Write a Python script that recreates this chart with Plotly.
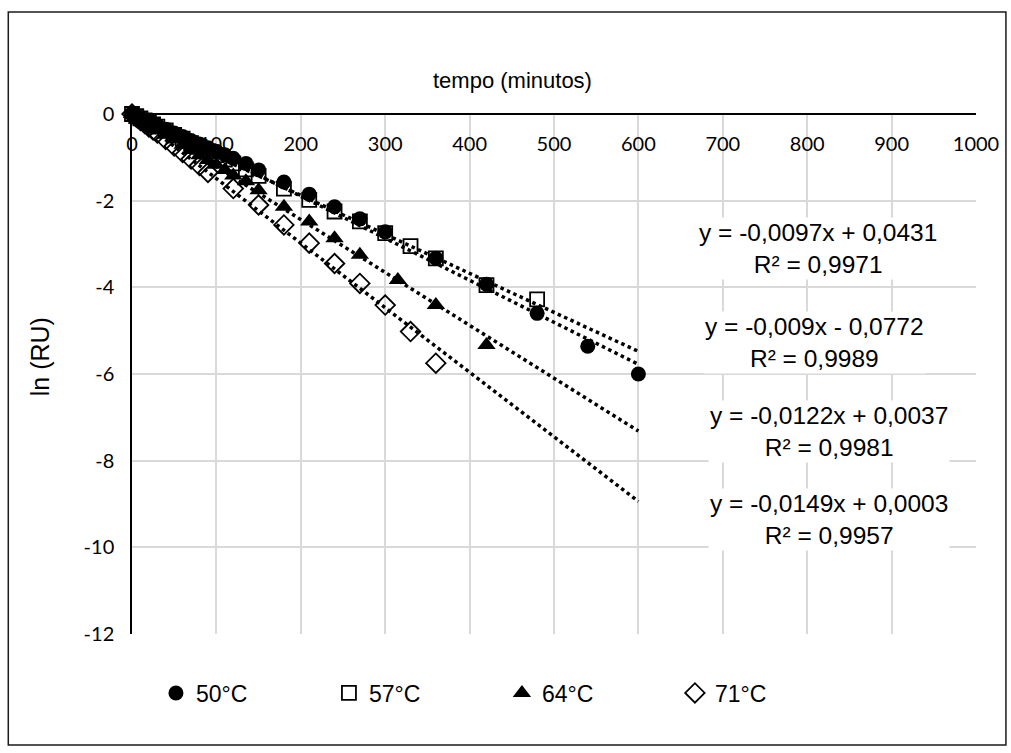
import plotly.graph_objects as go

# ---- data ----
t50 = [0, 5, 10, 15, 20, 25, 30, 40, 50, 60, 70, 80, 90, 100, 110, 120, 135, 150, 180, 210, 240, 270, 300, 360, 420, 480, 540, 600]
y50 = [0, -0.04, -0.09, -0.13, -0.17, -0.22, -0.26, -0.35, -0.44, -0.52, -0.61, -0.69, -0.78, -0.86, -0.94, -1.02, -1.14, -1.29, -1.57, -1.85, -2.14, -2.42, -2.72, -3.33, -3.93, -4.60, -5.36, -6.00]

t57 = [0, 5, 10, 15, 20, 25, 30, 40, 50, 60, 70, 80, 90, 100, 110, 120, 135, 150, 180, 210, 240, 270, 300, 330, 360, 420, 480]
y57 = [0, -0.05, -0.10, -0.15, -0.19, -0.24, -0.29, -0.38, -0.48, -0.57, -0.67, -0.76, -0.86, -0.95, -1.05, -1.14, -1.28, -1.43, -1.72, -1.98, -2.25, -2.48, -2.75, -3.05, -3.33, -3.95, -4.28]

t64 = [0, 5, 10, 15, 20, 25, 30, 40, 50, 60, 70, 80, 90, 100, 110, 120, 135, 150, 180, 210, 240, 270, 315, 360, 420]
y64 = [0, -0.06, -0.12, -0.18, -0.24, -0.30, -0.36, -0.48, -0.59, -0.71, -0.83, -0.95, -1.06, -1.17, -1.29, -1.42, -1.55, -1.76, -2.14, -2.48, -2.87, -3.25, -3.83, -4.41, -5.33]

t71 = [0, 5, 10, 15, 20, 25, 30, 40, 50, 60, 70, 80, 90, 120, 150, 180, 210, 240, 270, 300, 330, 360]
y71 = [0, -0.07, -0.15, -0.22, -0.30, -0.37, -0.44, -0.59, -0.74, -0.89, -1.04, -1.19, -1.35, -1.72, -2.10, -2.56, -2.98, -3.45, -3.91, -4.41, -5.02, -5.75]

series_names = ["50°C", "57°C", "64°C", "71°C"]
slopes = [-0.0097, -0.009, -0.0122, -0.0149]
intercepts = [0.0431, -0.0772, 0.0037, 0.0003]
r2_values = ["0,9971", "0,9989", "0,9981", "0,9957"]
eq_texts = ["y = -0,0097x + 0,0431", "y = -0,009x - 0,0772", "y = -0,0122x + 0,0037", "y = -0,0149x + 0,0003"]
trend_x = [0, 600]

x_ticks = [0, 100, 200, 300, 400, 500, 600, 700, 800, 900, 1000]
y_ticks = [0, -2, -4, -6, -8, -10, -12]

# ---- geometry (pixels) ----
W, H = 1011, 753
L, R, T, B = 132, 33, 114, 119
PW, PH = W - L - R, H - T - B


def px(x):
    return (x - L) / PW


def py(y):
    return (H - B - y) / PH


fig = go.Figure()

marker_styles = [
    dict(symbol="circle", size=15, color="black", line=dict(width=0)),
    dict(symbol="square-open", size=14, color="black", line=dict(width=1.8, color="black")),
    dict(symbol="triangle-up", size=16, color="black", line=dict(width=0)),
    dict(symbol="diamond-open", size=15, color="black", line=dict(width=1.8, color="black")),
]
xs = [t50, t57, t64, t71]
ys = [y50, y57, y64, y71]

for name, xv, yv, ms in zip(series_names, xs, ys, marker_styles):
    fig.add_trace(go.Scatter(x=xv, y=yv, mode="markers", name=name, marker=ms,
                             cliponaxis=False))

for m, b in zip(slopes, intercepts):
    fig.add_trace(go.Scatter(x=trend_x, y=[m * xv + b for xv in trend_x], mode="lines",
                             line=dict(color="black", width=3.5, dash="3.5px,3.5px"),
                             showlegend=False, hoverinfo="skip"))

tick_font = dict(family="Lato, Liberation Sans, sans-serif", size=20, color="black")

fig.update_layout(
    width=W, height=H,
    margin=dict(l=L, r=R, t=T, b=B, pad=0),
    paper_bgcolor="white", plot_bgcolor="white",
    font=dict(family="Liberation Sans, Arial, sans-serif", color="black"),
    xaxis=dict(range=[0, 1000], tickvals=x_ticks, ticktext=[str(v) for v in x_ticks],
               anchor="free", position=1, side="bottom",
               showline=True, linecolor="black", linewidth=1.5,
               showgrid=True, gridcolor="#d9d9d9", gridwidth=1.5,
               zeroline=False, ticks="", ticklabelstandoff=12, tickfont=tick_font),
    yaxis=dict(range=[-12, 0], tickvals=y_ticks, ticktext=[str(v) for v in y_ticks],
               showline=True, linecolor="black", linewidth=1.5,
               showgrid=True, gridcolor="#d9d9d9", gridwidth=1.5,
               zeroline=False, ticks="", ticklabelstandoff=12, tickfont=tick_font),
    legend=dict(orientation="h", x=px(156), y=py(693), xanchor="left", yanchor="middle",
                font=dict(family="Liberation Sans, Arial, sans-serif", size=23, color="black"),
                entrywidth=128, entrywidthmode="pixels", bgcolor="rgba(0,0,0,0)"),
    showlegend=True,
)

# chart border
fig.add_shape(type="rect", xref="paper", yref="paper",
              x0=px(8), x1=px(1008), y0=py(745), y1=py(12),
              line=dict(color="#1a1a1a", width=1.5), fillcolor="rgba(0,0,0,0)", layer="below")

# axis titles
fig.add_annotation(text="tempo (minutos)", xref="paper", yref="paper", x=px(513), y=py(80),
                   xanchor="center", yanchor="middle",
                   showarrow=False, font=dict(size=22, color="black"))
fig.add_annotation(text="ln (RU)", xref="paper", yref="paper", x=px(40), y=py(357),
                   xanchor="center", yanchor="middle",
                   showarrow=False, textangle=-90, font=dict(size=25, color="black"))

# trendline labels
eq_pos = [(820, 248), (816, 342), (831, 431), (831, 519)]
for (ex, ey), eq, r2 in zip(eq_pos, eq_texts, r2_values):
    fig.add_annotation(text=f"{eq}<br>R² = {r2}", xref="paper", yref="paper",
                       x=px(ex), y=py(ey), xanchor="center", yanchor="middle",
                       showarrow=False, align="center",
                       bgcolor="white", borderpad=1,
                       font=dict(size=24.5, color="black"))

fig.write_html("out.html")
